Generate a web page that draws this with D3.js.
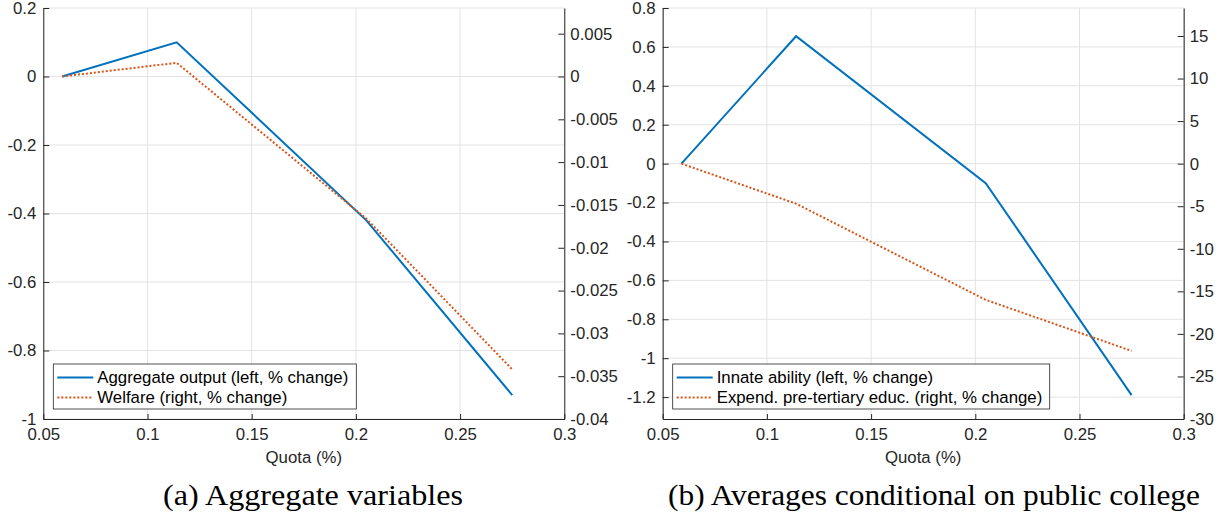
<!DOCTYPE html>
<html>
<head>
<meta charset="utf-8">
<script src="https://cdn.jsdelivr.net/npm/d3@7"></script>
<style>
  html, body { margin: 0; padding: 0; background: #fff; }
  svg { display: block; }
</style>
</head>
<body>
<script>
// data
const quota = [0.059, 0.114, 0.205, 0.275];
const outputLeft = [0, 0.1, -0.42, -0.93];          // aggregate output, % change
const welfareRight = [0, 0.0016, -0.0166, -0.0342];  // welfare, % change
const abilityLeft = [0, 0.655, -0.1, -1.19];         // innate ability, % change
const expendRight = [0, -4.7, -16, -22];             // expend. pre-tertiary educ., % change

const xTicks = [0.05, 0.1, 0.15, 0.2, 0.25, 0.3];
const aLeftTicks = [-1, -0.8, -0.6, -0.4, -0.2, 0, 0.2];
const aRightTicks = [-0.04, -0.035, -0.03, -0.025, -0.02, -0.015, -0.01, -0.005, 0, 0.005];
const bLeftTicks = [-1.2, -1, -0.8, -0.6, -0.4, -0.2, 0, 0.2, 0.4, 0.6, 0.8];
const bRightTicks = [-30, -25, -20, -15, -10, -5, 0, 5, 10, 15];

const W = 1222, H = 519;
const BLUE = "#0072BD", RED = "#D95319", INK = "#262626", GRID = "#e3e3e3";
const FS = "16.8px";
const fmt = v => String(+v.toFixed(6));

const svg = d3.select("body").append("svg")
    .attr("width", W)
    .attr("height", H)
    .style("font-family", "'Liberation Sans', Arial, sans-serif");

function drawPanel({ left, leftDomain, rightDomain, leftTicks, rightTicks,
                     leftSeries, rightSeries, labels, legendWidth,
                     caption, captionCenter, captionWidth }) {
    const plotW = 521, top = 8, bottom = 419;
    const g = svg.append("g").attr("transform", `translate(${left},0)`);

    const x = d3.scaleLinear().domain([0.05, 0.3]).range([0, plotW]);
    const yL = d3.scaleLinear().domain(leftDomain).range([bottom, top]);
    const yR = d3.scaleLinear().domain(rightDomain).range([bottom, top]);

    // grid
    g.append("g").selectAll("line").data(xTicks).join("line")
        .attr("x1", d => x(d)).attr("x2", d => x(d))
        .attr("y1", top).attr("y2", bottom)
        .attr("stroke", GRID);
    g.append("g").selectAll("line").data(leftTicks).join("line")
        .attr("x1", 0).attr("x2", plotW)
        .attr("y1", d => yL(d)).attr("y2", d => yL(d))
        .attr("stroke", GRID);

    // axes, ticks pointing inward like the original
    const styleAxis = sel => {
        sel.style("font-family", null);
        sel.select(".domain").attr("stroke", INK);
        sel.selectAll(".tick line").attr("stroke", INK);
        sel.selectAll("text").attr("fill", INK).style("font-size", FS);
    };
    g.append("g").attr("transform", `translate(0,${bottom})`)
        .call(d3.axisBottom(x).tickValues(xTicks).tickFormat(fmt)
            .tickSizeInner(-5).tickSizeOuter(0).tickPadding(9))
        .call(styleAxis);
    g.append("g")
        .call(d3.axisLeft(yL).tickValues(leftTicks).tickFormat(fmt)
            .tickSizeInner(-6).tickSizeOuter(0).tickPadding(7))
        .call(styleAxis);
    g.append("g").attr("transform", `translate(${plotW},0)`)
        .call(d3.axisRight(yR).tickValues(rightTicks).tickFormat(fmt)
            .tickSizeInner(-6).tickSizeOuter(0).tickPadding(6))
        .call(styleAxis);

    // lines
    const lineL = d3.line().x((d, i) => x(quota[i])).y(d => yL(d));
    const lineR = d3.line().x((d, i) => x(quota[i])).y(d => yR(d));
    g.append("path").datum(leftSeries)
        .attr("d", lineL).attr("fill", "none")
        .attr("stroke", BLUE).attr("stroke-width", 2);
    g.append("path").datum(rightSeries)
        .attr("d", lineR).attr("fill", "none")
        .attr("stroke", RED).attr("stroke-width", 2)
        .attr("stroke-dasharray", "2,2");

    // x label
    g.append("text")
        .attr("x", plotW / 2).attr("y", 463)
        .attr("text-anchor", "middle")
        .attr("fill", INK).style("font-size", FS)
        .text("Quota (%)");

    // legend
    const lg = g.append("g").attr("transform", "translate(10,364)");
    lg.append("rect")
        .attr("width", legendWidth).attr("height", 45)
        .attr("fill", "#fff").attr("stroke", INK).attr("stroke-width", 0.8);
    [[BLUE, null], [RED, "2,2"]].forEach(([c, dash], i) => {
        const yy = 13.5 + i * 20;
        lg.append("line")
            .attr("x1", 4).attr("x2", 40).attr("y1", yy).attr("y2", yy)
            .attr("stroke", c).attr("stroke-width", 2)
            .attr("stroke-dasharray", dash);
        lg.append("text")
            .attr("x", 44).attr("y", yy).attr("dy", "0.35em")
            .attr("fill", "#000").style("font-size", FS)
            .text(labels[i]);
    });

    // caption
    svg.append("text")
        .attr("x", captionCenter).attr("y", 505)
        .attr("text-anchor", "middle")
        .attr("textLength", captionWidth)
        .attr("lengthAdjust", "spacingAndGlyphs")
        .style("font-family", "'Liberation Serif', 'DejaVu Serif', serif")
        .style("font-size", "30px")
        .attr("fill", "#000")
        .text(caption);
}

drawPanel({
    left: 43.3,
    leftDomain: [-1, 0.2],
    rightDomain: [-0.04, 0.008],
    leftTicks: aLeftTicks,
    rightTicks: aRightTicks,
    leftSeries: outputLeft,
    rightSeries: welfareRight,
    labels: ["Aggregate output (left, % change)", "Welfare (right, % change)"],
    legendWidth: 303,
    caption: "(a) Aggregate variables",
    captionCenter: 313,
    captionWidth: 300
});

drawPanel({
    left: 662.7,
    leftDomain: [-1.3125, 0.8],
    rightDomain: [-30, 18.29],
    leftTicks: bLeftTicks,
    rightTicks: bRightTicks,
    leftSeries: abilityLeft,
    rightSeries: expendRight,
    labels: ["Innate ability (left, % change)", "Expend. pre-tertiary educ. (right, % change)"],
    legendWidth: 377,
    caption: "(b) Averages conditional on public college",
    captionCenter: 934,
    captionWidth: 532
});
</script>
</body>
</html>
